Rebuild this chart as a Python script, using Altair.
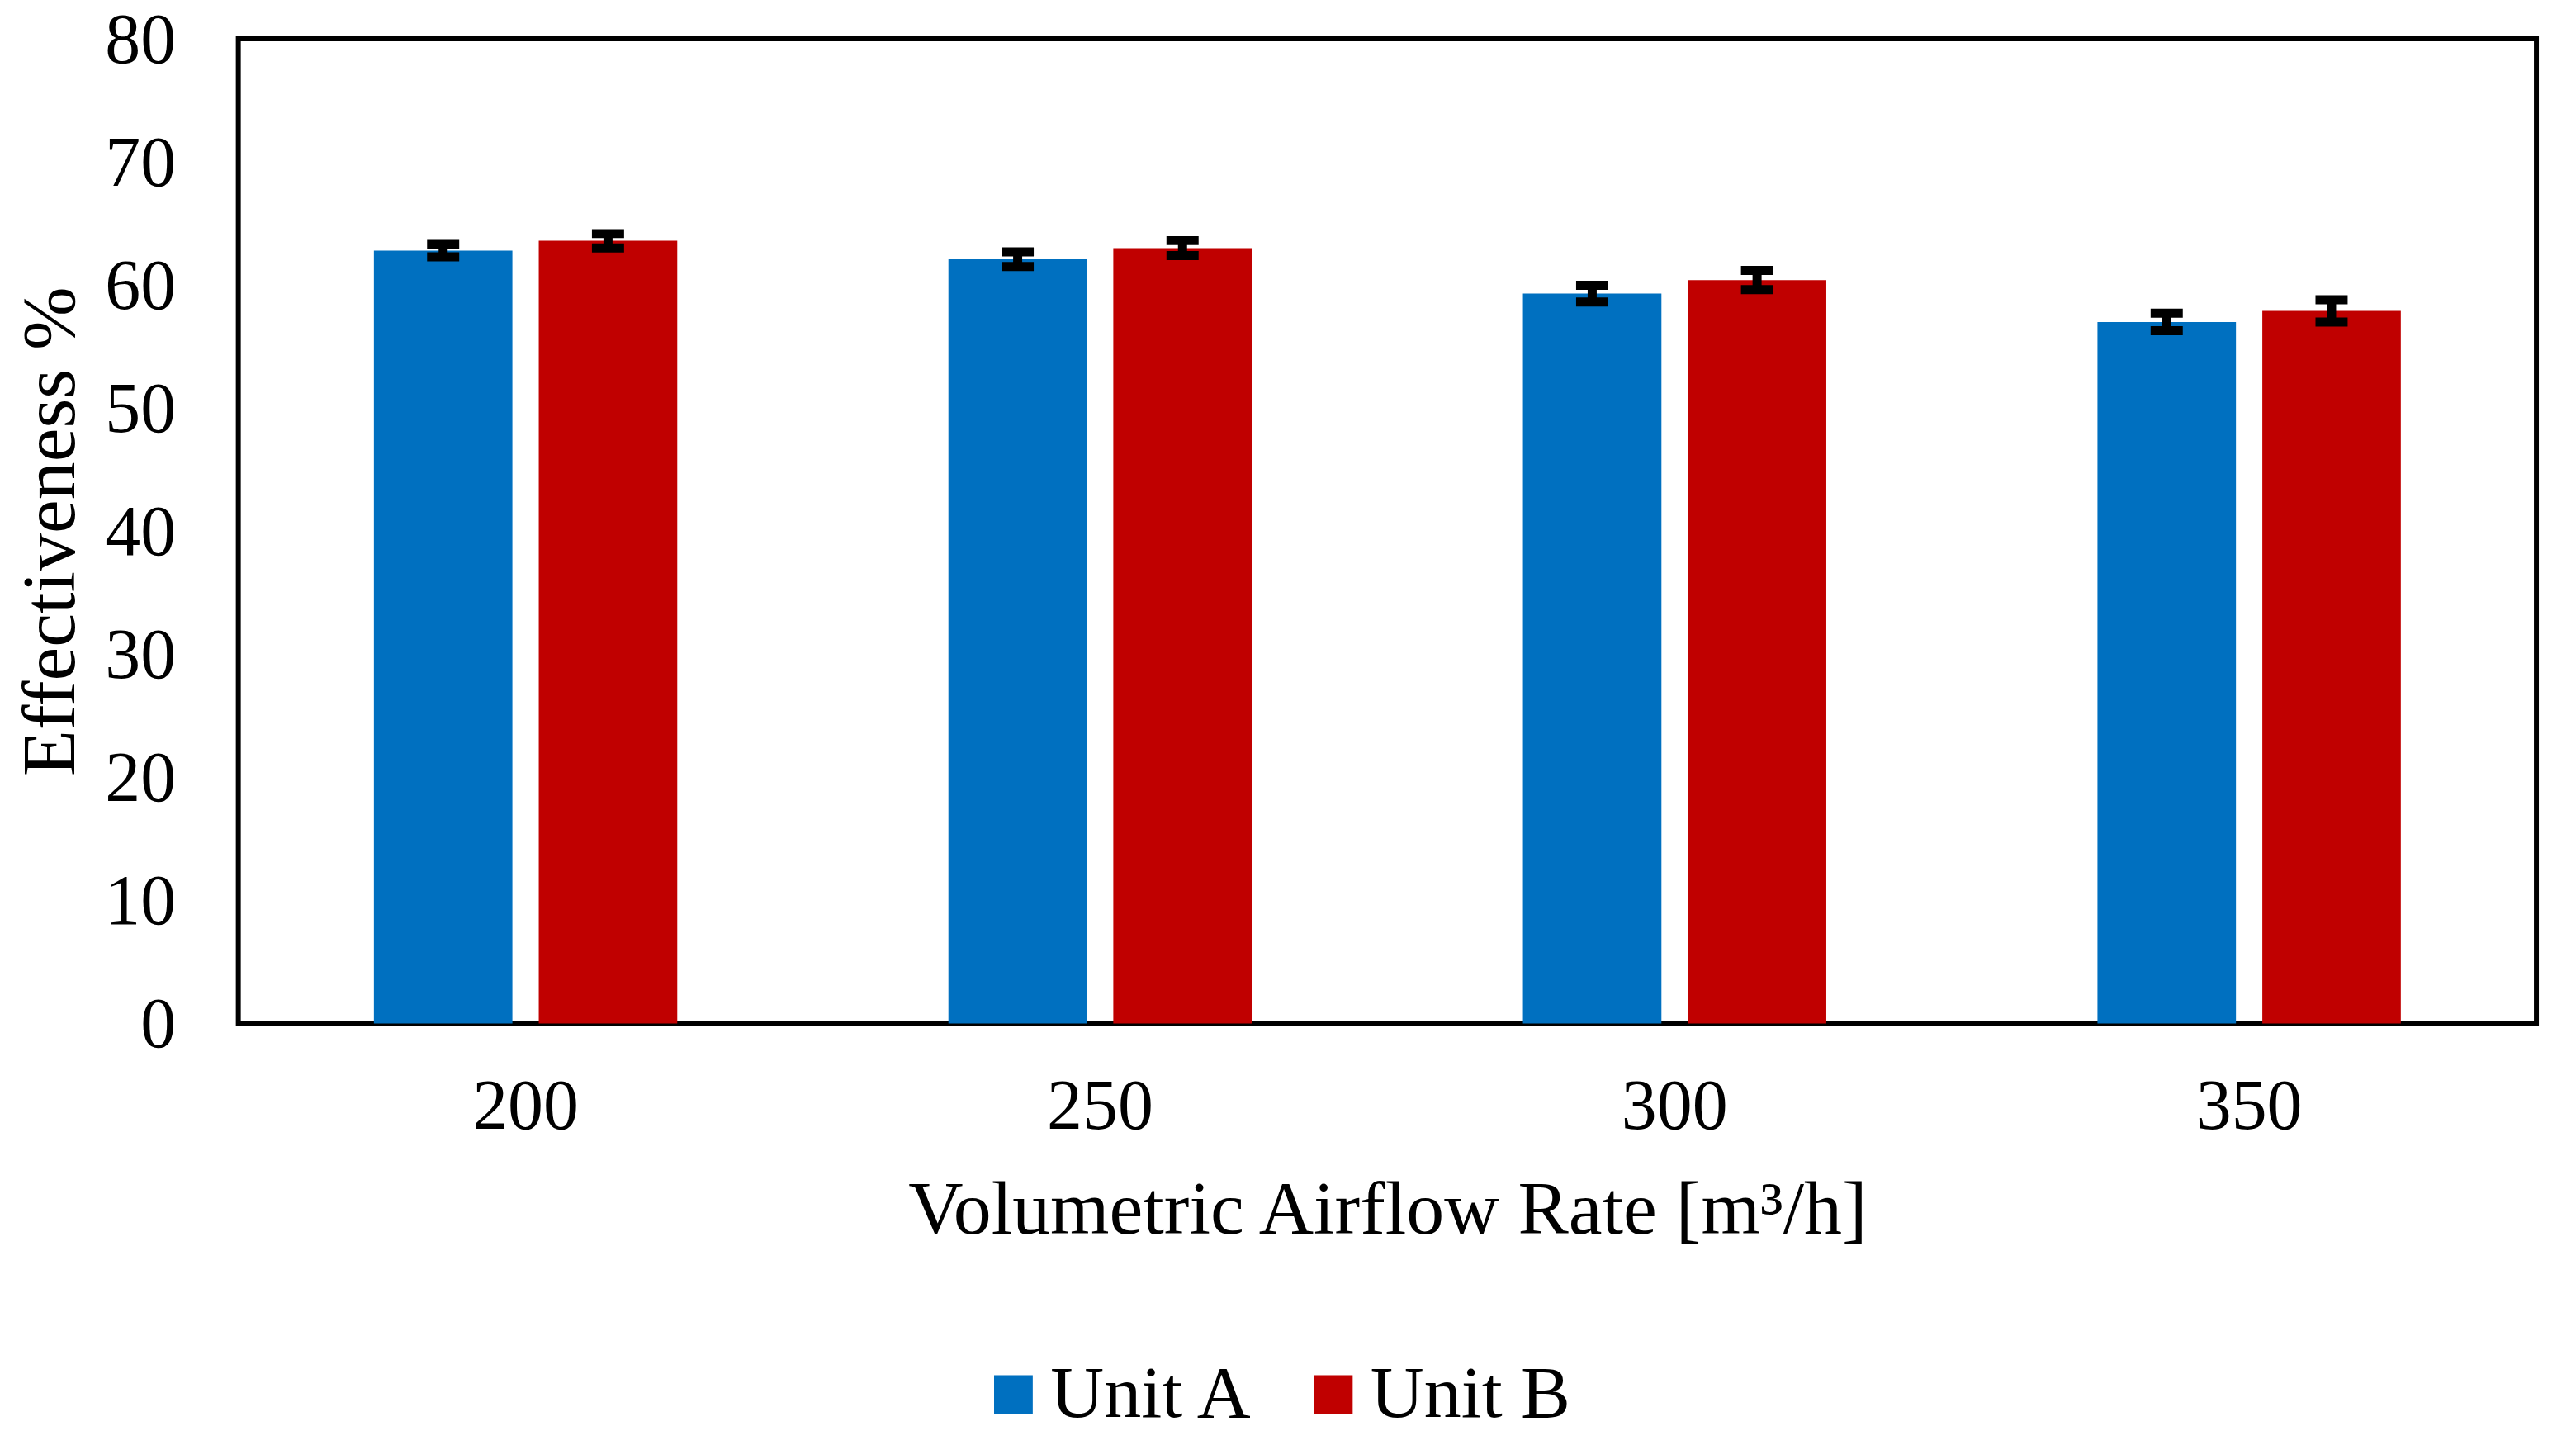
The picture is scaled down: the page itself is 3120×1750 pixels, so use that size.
import altair as alt
import pandas as pd

rates = ["200", "250", "300", "350"]
units = ["Unit A", "Unit B"]
unit_a = [62.8, 62.1, 59.3, 57.0]
unit_b = [63.6, 63.0, 60.4, 57.9]
err_a = [0.50, 0.60, 0.68, 0.71]
err_b = [0.58, 0.61, 0.78, 0.90]
colors = ["#0070C0", "#C00000"]
y_ticks = [0, 10, 20, 30, 40, 50, 60, 70, 80]

rows = []
for i, r in enumerate(rates):
    rows.append({"rate": r, "unit": units[0], "value": unit_a[i], "err": err_a[i]})
    rows.append({"rate": r, "unit": units[1], "value": unit_b[i], "err": err_b[i]})
df = pd.DataFrame(rows)
df["lo"] = df["value"] - df["err"]
df["hi"] = df["value"] + df["err"]

FONT = "Liberation Serif"

x_enc = alt.X(
    "rate:N",
    sort=rates,
    scale=alt.Scale(paddingInner=0.472, paddingOuter=0.236),
    axis=alt.Axis(
        title="Volumetric Airflow Rate [m³/h]",
        labelAngle=0,
        ticks=False,
        tickSize=0,
        domain=False,
        labelPadding=59,
        titlePadding=37,
    ),
)
xoff = alt.XOffset("unit:N", sort=units, scale=alt.Scale(paddingInner=0.16, paddingOuter=0))

y_scale = alt.Scale(domain=[0, 80], nice=False)

bars = alt.Chart(df).mark_bar(stroke=None, opacity=1).encode(
    x=x_enc,
    xOffset=xoff,
    y=alt.Y(
        "value:Q",
        scale=y_scale,
        axis=alt.Axis(
            title="Effectiveness %",
            values=y_ticks,
            grid=False,
            ticks=False,
            tickSize=0,
            domain=False,
            labelPadding=76,
            titlePadding=18,
            labelOffset=2,
        ),
    ),
    color=alt.Color(
        "unit:N",
        sort=units,
        scale=alt.Scale(domain=units, range=colors),
        legend=alt.Legend(
            title=None,
            orient="none",
            direction="horizontal",
            legendX=895,
            legendY=1599,
            symbolType="square",
            symbolSize=2200,
            symbolStrokeWidth=0,
            symbolOpacity=1,
            labelFontSize=90,
            labelFont=FONT,
            labelColor="black",
            labelLimit=0,
            labelOffset=0,
            columnPadding=50,
            padding=0,
        ),
    ),
)

stems = alt.Chart(df).mark_rule(color="black", strokeWidth=11, opacity=1).encode(
    x=alt.X("rate:N", sort=rates),
    xOffset=xoff,
    y=alt.Y("lo:Q", scale=y_scale),
    y2="hi:Q",
)

caps_lo = alt.Chart(df).mark_tick(color="black", size=39, thickness=11, orient="horizontal", opacity=1).encode(
    x=alt.X("rate:N", sort=rates),
    xOffset=xoff,
    y=alt.Y("lo:Q", scale=y_scale),
)
caps_hi = alt.Chart(df).mark_tick(color="black", size=39, thickness=11, orient="horizontal", opacity=1).encode(
    x=alt.X("rate:N", sort=rates),
    xOffset=xoff,
    y=alt.Y("hi:Q", scale=y_scale),
)

chart = (
    alt.layer(bars, stems, caps_lo, caps_hi)
    .properties(
        width=2787,
        height=1194,
        padding={"left": 281, "top": 38, "right": 40, "bottom": 500},
        autosize=alt.AutoSizeParams(type="none"),
        background="white",
    )
    .configure_view(stroke="black", strokeWidth=6)
    .configure_axis(
        labelFont=FONT,
        titleFont=FONT,
        labelFontSize=86,
        titleFontSize=92,
        titleFontWeight="normal",
        labelColor="black",
        titleColor="black",
    )
)

chart.save("out.html", embed_options={"renderer": "svg", "actions": False})
